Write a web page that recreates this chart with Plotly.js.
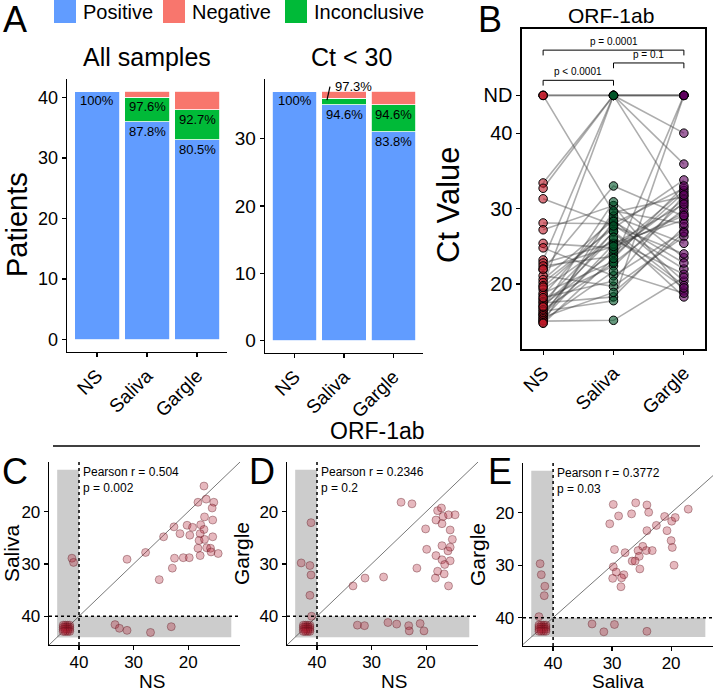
<!DOCTYPE html>
<html>
<head>
<meta charset="utf-8">
<script src="https://cdn.plot.ly/plotly-3.0.1.min.js"></script>
<style>
  html, body { margin: 0; padding: 0; background: #fff; }
  #chart { width: 714px; height: 693px; }
</style>
</head>
<body>
<div id="chart"></div>
<script>
const sampleTypes = ["NS", "Saliva", "Gargle"];

// panel A, all samples
const allPositive = [41, 36, 33];
const allInconclusive = [0, 4, 5];
const allNegative = [0, 1, 3];
const allPositivePct = ["100%", "87.8%", "80.5%"];
const allDetectedPct = [null, "97.6%", "92.7%"];

// panel A, Ct < 30
const ct30Positive = [37, 35, 31];
const ct30Inconclusive = [0, 1, 4];
const ct30Negative = [0, 1, 2];
const ct30PositivePct = ["100%", "94.6%", "83.8%"];
const ct30DetectedPct = [null, "97.3%", "94.6%"];

const resultNames = ["Positive", "Negative", "Inconclusive"];
const resultColors = ["#619CFF", "#F8766D", "#00BA38"];

// panel B, paired Ct values per patient ("ND" = not detected)
const nsCt = ["ND", "ND", "ND", 33.4, 32.7, 31.3, 28.1, 27.2, 25.4, 24.8, 23.2, 22.8, 22.4, 21.9,
  21.1, 20.6, 20.2, 19.8, 19.3, 18.8, 18.5, 18.0, 17.7, 17.5, 17.2, 16.9, 16.6, 16.4, 16.1, 16.0,
  15.8, 15.6, 15.4, 15.2, 15.1, 14.9, 14.8, 17.0, 18.2, 19.6, 22.0];
const salivaCt = ["ND", "ND", 29.5, "ND", "ND", 27.8, 28.0, 30.4, 24.8, 21.1, "ND", 25.4, 23.7, 33.0,
  19.7, 28.5, 27.4, "ND", 25.9, 23.0, 29.0, 22.4, 26.9, 18.3, 24.2, 30.9, 22.8, 17.8, 27.0, 24.6,
  28.3, 18.9, 25.3, 21.7, 15.2, 29.7, 23.4, 26.2, 20.4, 27.7, 25.0];
const gargleCt = ["ND", "ND", 31.6, 35.9, "ND", 22.0, 32.7, 19.1, 29.4, 27.0, 40.0, 28.5, 32.1, 29.0,
  26.3, 20.4, 33.8, 30.3, 21.3, "ND", 25.4, 30.9, 18.3, 27.6, 31.2, 23.5, 29.9, "ND", 19.8, 32.4,
  22.8, 26.8, 30.6, 18.8, 20.9, 28.0, 33.0, 19.5, 31.8, 24.0, 29.1];
const bracketFrom = [0, 1, 0];
const bracketTo = [2, 2, 1];
const bracketY = [51.0, 49.3, 47.0];
const bracketP = ["p = 0.0001", "p = 0.1", "p < 0.0001"];

// panel C: NS vs Saliva (last 16 = the both-ND pile in the corner)
const cNs = [17.1, 18.2, 16.7, 15.3, 15.6, 17.0, 15.5, 22.6, 20.2, 19.2, 17.7, 21.5, 19.7, 17.1, 17.8, 18.0,
  17.0, 15.5, 24.5, 18.2, 16.6, 15.9, 15.8, 14.5, 17.8, 27.8, 31.2, 22.5, 20.9, 19.8, 22.9, 25.3,
  41.3, 41.0, 33.4, 32.6, 31.2, 26.9, 23.1,
  41.7, 42.1, 42.5, 42.9, 41.7, 42.1, 42.5, 42.9, 41.7, 42.1, 42.5, 42.9, 41.7, 42.1, 42.5, 42.9];
const cSaliva = [15.1, 18.2, 17.6, 18.2, 19.3, 21.0, 21.6, 22.9, 22.6, 23.0, 22.5, 24.2, 24.5, 23.4, 24.2, 25.5,
  25.3, 24.8, 24.8, 27.0, 26.9, 27.0, 27.7, 28.0, 28.4, 27.8, 29.1, 28.9, 28.8, 28.8, 30.8, 33.0,
  28.9, 29.7, 41.6, 42.3, 42.7, 43.1, 42.0,
  41.7, 41.7, 41.7, 41.7, 42.1, 42.1, 42.1, 42.1, 42.5, 42.5, 42.5, 42.5, 42.9, 42.9, 42.9, 42.9];

// panel D: NS vs Gargle
const dNs = [24.6, 22.6, 17.9, 17.2, 18.2, 16.9, 15.9, 14.7, 20.1, 17.1, 15.6, 15.2, 19.9, 17.1, 16.0, 15.6,
  18.2, 17.1, 15.6, 16.6, 21.7, 17.9, 16.7, 18.3, 15.9, 27.8, 31.2, 33.4,
  41.1, 42.9, 41.3, 41.1, 41.3, 41.0, 32.6, 31.3, 27.0, 25.4, 23.2, 23.1, 21.1, 20.4,
  41.3, 41.7, 42.1, 42.5, 41.3, 41.7, 42.1, 42.5, 41.3, 41.7, 42.1, 42.5, 41.3, 41.7, 42.1, 42.5];
const dGargle = [18.2, 18.5, 19.8, 19.3, 21.6, 20.9, 20.6, 20.6, 23.3, 22.3, 23.5, 25.3, 27.2, 26.5, 27.5, 26.8,
  28.4, 29.2, 29.4, 30.1, 30.8, 31.4, 31.9, 32.7, 34.2, 32.5, 32.7, 34.2,
  22.1, 29.8, 30.3, 32.1, 36.0, 40.0, 41.7, 41.8, 41.2, 41.5, 41.8, 42.8, 41.4, 42.8,
  41.7, 41.7, 41.7, 41.7, 42.1, 42.1, 42.1, 42.1, 42.5, 42.5, 42.5, 42.5, 42.9, 42.9, 42.9, 42.9];

// panel E: Saliva vs Gargle
const eSaliva = [29.8, 26.0, 24.1, 23.8, 26.7, 28.9, 30.4, 17.1, 21.1, 19.9, 19.3, 22.5, 24.1, 20.7, 20.0, 19.8,
  19.5, 29.6, 27.8, 24.8, 25.6, 24.2, 23.2, 25.4, 26.6, 26.1, 29.8, 25.3, 29.3, 28.0, 29.9, 28.4, 28.5,
  42.2, 42.0, 41.4, 41.5, 42.4, 33.4, 31.4, 29.6, 24.1,
  41.2, 41.6, 42.0, 42.4, 41.2, 41.6, 42.0, 42.4, 41.2, 41.6, 42.0, 42.4, 41.2, 41.6, 42.0, 42.4];
const eGargle = [18.4, 18.1, 18.5, 19.9, 20.2, 20.6, 22.1, 19.3, 20.7, 21.6, 20.9, 22.4, 23.4, 23.4, 25.3, 26.6,
  30.0, 27.0, 27.6, 26.4, 27.2, 27.2, 27.2, 28.3, 29.2, 29.2, 30.3, 30.7, 31.3, 31.8, 32.5, 32.4, 34.1,
  29.7, 31.8, 34.0, 35.8, 39.8, 41.2, 42.7, 41.3, 42.6,
  41.4, 41.4, 41.4, 41.4, 41.8, 41.8, 41.8, 41.8, 42.2, 42.2, 42.2, 42.2, 42.6, 42.6, 42.6, 42.6];

const pearsonR = ["0.504", "0.2346", "0.3772"];
const pearsonP = ["0.002", "0.2", "0.03"];

const W = 714, H = 693;
const ND_POS = 45;
const FONT = "Liberation Sans, Arial, sans-serif";

function dx(left, right) { return [left / W, right / W]; }
function dy(top, bottom) { return [1 - bottom / H, 1 - top / H]; }

function axis(extra) {
  return Object.assign({
    showline: true, linecolor: "black", linewidth: 1.3,
    ticks: "outside", ticklen: 4, tickwidth: 1.2, tickcolor: "black",
    showgrid: false, zeroline: false, fixedrange: true,
    tickfont: { size: 18, color: "black" },
  }, extra);
}

function ctValue(v) { return v === "ND" ? ND_POS : v; }

const traces = [];
const shapes = [];
const annotations = [];

// ---- panel A ----
function addBars(xa, ya, positive, inconclusive, negative) {
  const stacks = [positive, inconclusive, negative];
  const colorIdx = [0, 2, 1];
  stacks.forEach(function(counts, k) {
    traces.push({
      type: "bar", x: sampleTypes, y: counts, xaxis: xa, yaxis: ya,
      name: resultNames[colorIdx[k]],
      marker: { color: resultColors[colorIdx[k]], line: { color: "white", width: 0.8 } },
      showlegend: false, hoverinfo: "skip",
    });
  });
}

function addBarLabels(xa, ya, positive, inconclusive, posPct, detPct) {
  sampleTypes.forEach(function(name, i) {
    annotations.push({
      xref: xa, yref: ya, x: i, y: positive[i], text: posPct[i],
      showarrow: false, yanchor: "top", font: { size: 13, color: "black" },
    });
    if (detPct[i] === null) return;
    const top = positive[i] + inconclusive[i];
    if (inconclusive[i] >= 2) {
      annotations.push({
        xref: xa, yref: ya, x: i, y: top, text: detPct[i],
        showarrow: false, yanchor: "top", font: { size: 13, color: "black" },
      });
    } else {
      // thin segment: label above the bar with a short leader line
      annotations.push({
        xref: xa, yref: ya, x: i - 0.23, y: top + 1.7, text: detPct[i],
        showarrow: false, xanchor: "left", yanchor: "middle", font: { size: 13, color: "black" },
      });
      shapes.push({
        type: "line", xref: xa, yref: ya, x0: i - 0.345, y0: top - 0.3, x1: i - 0.284, y1: top + 1.7,
        line: { color: "black", width: 1.2 },
      });
    }
  });
}

addBars("x", "y", allPositive, allInconclusive, allNegative);
addBars("x2", "y2", ct30Positive, ct30Inconclusive, ct30Negative);
addBarLabels("x", "y", allPositive, allInconclusive, allPositivePct, allDetectedPct);
addBarLabels("x2", "y2", ct30Positive, ct30Inconclusive, ct30PositivePct, ct30DetectedPct);

// legend drawn by hand so the keys match the big squares of the figure
const legendLeft = [54, 163, 285];
resultNames.forEach(function(name, i) {
  shapes.push({
    type: "rect", xref: "paper", yref: "paper",
    x0: legendLeft[i] / W, x1: (legendLeft[i] + 22) / W, y0: 1 - 23 / H, y1: 1,
    fillcolor: resultColors[i], line: { width: 0 },
  });
  annotations.push({
    xref: "paper", yref: "paper", x: (legendLeft[i] + 27) / W, y: 1 - 12 / H,
    text: name, showarrow: false, xanchor: "left", yanchor: "middle",
    font: { size: 20, color: "black" },
  });
});

// ---- panel B ----
const lineX = [], lineY = [];
nsCt.forEach(function(v, i) {
  lineX.push("NS", "Saliva", "Gargle", null);
  lineY.push(ctValue(nsCt[i]), ctValue(salivaCt[i]), ctValue(gargleCt[i]), null);
});
traces.push({
  type: "scatter", mode: "lines", x: lineX, y: lineY, xaxis: "x3", yaxis: "y3",
  line: { color: "rgba(60,60,60,0.42)", width: 1.6 }, connectgaps: false,
  showlegend: false, hoverinfo: "skip",
});
const pointSeries = [nsCt, salivaCt, gargleCt];
const pointColors = ["rgba(190,25,40,0.6)", "rgba(0,85,40,0.6)", "rgba(95,0,95,0.6)"];
pointSeries.forEach(function(series, k) {
  traces.push({
    type: "scatter", mode: "markers", xaxis: "x3", yaxis: "y3",
    x: series.map(function() { return sampleTypes[k]; }),
    y: series.map(ctValue),
    marker: { size: 8.5, color: pointColors[k], line: { color: "black", width: 1 } },
    showlegend: false, hoverinfo: "skip",
  });
});
bracketY.forEach(function(yv, i) {
  const a = bracketFrom[i], b = bracketTo[i];
  const drop = 0.7;
  [[a, yv - drop, a, yv], [a, yv, b, yv], [b, yv, b, yv - drop]].forEach(function(s) {
    shapes.push({
      type: "line", xref: "x3", yref: "y3", x0: s[0], y0: s[1], x1: s[2], y1: s[3],
      line: { color: "black", width: 1 },
    });
  });
  annotations.push({
    xref: "x3", yref: "y3", x: (a + b) / 2, y: yv + 0.15, text: bracketP[i],
    showarrow: false, yanchor: "bottom", font: { size: 10, color: "black" },
  });
});

// ---- panels C, D, E ----
const scatterPanels = [
  { xa: "x4", ya: "y4", x: cNs, y: cSaliva, xr: [45.5, 10.5], yr: [45.5, 10.5], near: 44, far: 12.1 },
  { xa: "x5", ya: "y5", x: dNs, y: dGargle, xr: [45.5, 10.5], yr: [45.5, 10.5], near: 44, far: 12.1 },
  { xa: "x6", ya: "y6", x: eSaliva, y: eGargle, xr: [45.1, 12.9], yr: [45.4, 10.5], near: 43.7, far: 14.2 },
];
scatterPanels.forEach(function(p, i) {
  const grey = "#cccccc";
  shapes.push({
    type: "rect", xref: p.xa, yref: p.ya, layer: "below", x0: 40, x1: p.near, y0: p.near, y1: 12,
    fillcolor: grey, line: { width: 0 },
  });
  shapes.push({
    type: "rect", xref: p.xa, yref: p.ya, layer: "below", x0: p.near, x1: p.far, y0: 40, y1: p.near,
    fillcolor: grey, line: { width: 0 },
  });
  shapes.push({
    type: "line", xref: p.xa, yref: p.ya, layer: "below", x0: 47, y0: 47, x1: 9, y1: 9,
    line: { color: "#555555", width: 0.8 },
  });
  shapes.push({
    type: "line", xref: p.xa, yref: p.ya + " domain", x0: 40, x1: 40, y0: 0, y1: 1,
    line: { color: "black", width: 1.5, dash: "dot" },
  });
  shapes.push({
    type: "line", xref: p.xa + " domain", yref: p.ya, x0: 0, x1: 1, y0: 40, y1: 40,
    line: { color: "black", width: 1.5, dash: "dot" },
  });
  traces.push({
    type: "scatter", mode: "markers", x: p.x, y: p.y, xaxis: p.xa, yaxis: p.ya,
    marker: { size: 8, color: "rgba(178,34,52,0.32)", line: { color: "rgba(80,10,20,0.45)", width: 0.8 } },
    showlegend: false, hoverinfo: "skip",
  });
  annotations.push({
    xref: p.xa, yref: p.ya + " domain", x: 40, y: 0.995, xshift: 2,
    text: "Pearson r = " + pearsonR[i] + "<br>p = " + pearsonP[i],
    showarrow: false, xanchor: "left", yanchor: "top", align: "left",
    font: { size: 12, color: "black" },
  });
});

// titles, axis titles and panel letters
function label(text, x, y, size, extra) {
  annotations.push(Object.assign({
    xref: "paper", yref: "paper", x: x / W, y: 1 - y / H, text: text,
    showarrow: false, xanchor: "center", yanchor: "middle", font: { size: size, color: "black" },
  }, extra || {}));
}
label("All samples", 147, 57, 25);
label("Ct &lt; 30", 351, 57, 25);
label("ORF-1ab", 611, 16, 21);
label("ORF-1ab", 377, 431, 23);
label("Patients", 17, 225, 29, { textangle: -90 });
label("Ct Value", 449, 205, 31, { textangle: -90 });
label("NS", 152, 681, 19);
label("NS", 394, 681, 19);
label("Saliva", 618, 681, 19);
label("A", 15, 19, 36);
label("B", 490, 19, 36);
label("C", 15, 471, 36);
label("D", 262, 471, 36);
label("E", 500, 471, 36);
shapes.push({
  type: "line", xref: "paper", yref: "paper", x0: 53 / W, x1: 700 / W, y0: 1 - 446 / H, y1: 1 - 446 / H,
  line: { color: "black", width: 1.5 },
});

const scatterX = { tickvals: [20, 30, 40], tickfont: { size: 17 }, ticklabelstandoff: -3 };
const scatterY = { tickvals: [20, 30, 40], tickfont: { size: 17 } };

const layout = {
  width: W, height: H,
  margin: { l: 0, r: 0, t: 0, b: 0 },
  paper_bgcolor: "white", plot_bgcolor: "white",
  font: { family: FONT, color: "black" },
  barmode: "stack", bargap: 0.1,
  showlegend: false,
  xaxis: axis({ domain: dx(67, 227), anchor: "y", type: "category", range: [-0.6, 2.6], tickangle: -45, tickfont: { size: 19 } }),
  yaxis: axis({ domain: dy(79, 352), anchor: "x", range: [-2.05, 43.05], tickvals: [0, 10, 20, 30, 40] }),
  xaxis2: axis({ domain: dx(265, 423), anchor: "y2", type: "category", range: [-0.6, 2.6], tickangle: -45, tickfont: { size: 19 } }),
  yaxis2: axis({ domain: dy(79, 353), anchor: "x2", range: [-1.85, 38.85], tickvals: [0, 10, 20, 30], tickfont: { size: 19 } }),
  xaxis3: axis({ domain: dx(522, 705), anchor: "y3", type: "category", categoryarray: sampleTypes, range: [-0.3, 2.3],
    tickangle: -45, tickfont: { size: 19 }, mirror: true, linewidth: 1.6 }),
  yaxis3: axis({ domain: dy(29, 349), anchor: "x3", range: [11.4, 53.8], tickvals: [20, 30, 40, ND_POS],
    ticktext: ["20", "30", "40", "ND"], tickfont: { size: 20 }, mirror: true, linewidth: 1.6 }),
  xaxis4: axis(Object.assign({ domain: dx(49, 240), anchor: "y4", range: scatterPanels[0].xr }, scatterX)),
  yaxis4: axis(Object.assign({ domain: dy(462, 645), anchor: "x4", range: scatterPanels[0].yr,
    title: { text: "Saliva", font: { size: 21 }, standoff: 4 } }, scatterY)),
  xaxis5: axis(Object.assign({ domain: dx(287, 478), anchor: "y5", range: scatterPanels[1].xr }, scatterX)),
  yaxis5: axis(Object.assign({ domain: dy(462, 645), anchor: "x5", range: scatterPanels[1].yr,
    title: { text: "Gargle", font: { size: 21 }, standoff: 4 } }, scatterY)),
  xaxis6: axis(Object.assign({ domain: dx(523, 713), anchor: "y6", range: scatterPanels[2].xr }, scatterX)),
  yaxis6: axis(Object.assign({ domain: dy(463, 646), anchor: "x6", range: scatterPanels[2].yr,
    title: { text: "Gargle", font: { size: 21 }, standoff: 4 } }, scatterY)),
  shapes: shapes,
  annotations: annotations,
};

Plotly.newPlot("chart", traces, layout, { displayModeBar: false, staticPlot: true });
</script>
</body>
</html>
